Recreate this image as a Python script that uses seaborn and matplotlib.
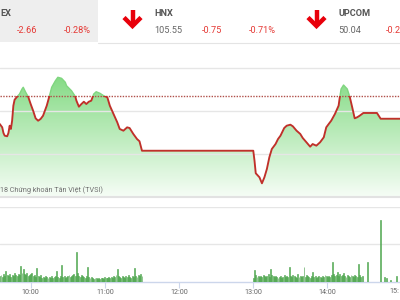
import numpy as np
import pandas as pd
import matplotlib
matplotlib.use("Agg")
import matplotlib.pyplot as plt
from matplotlib.colors import LinearSegmentedColormap
from matplotlib.patches import Rectangle
import seaborn as sns

sns.set_theme(style="white")
plt.rcParams['font.family'] = ['Roboto', 'DejaVu Sans']

# ---------------- data ----------------
# header (visible parts of the cropped index bar)
idx_names = ["EX", "HNX", "UPCOM"]
idx_prices = ["", "105.55", "50.04"]
idx_changes = ["-2.66", "-0.75", "-0.2"]
idx_pcts = ["-0.28%", "-0.71%", ""]

reference = 956.70

price_times = ["09:35", "09:37", "09:38", "09:39", "09:41", "09:42", "09:43", "09:44", "09:45",
               "09:46", "09:47", "09:49", "09:51", "09:53", "09:54", "09:56", "09:58", "10:00",
               "10:02", "10:04", "10:06", "10:08", "10:10", "10:13", "10:15", "10:17", "10:20",
               "10:22", "10:25", "10:28", "10:29", "10:33", "10:36", "10:37", "10:39", "10:41",
               "10:43", "10:45", "10:47", "10:49", "10:51", "10:53", "10:56", "10:59", "11:02",
               "11:04", "11:07", "11:10", "11:12", "11:15", "11:18", "11:20", "11:23", "11:26",
               "11:28", "11:30",
               "13:00", "13:01", "13:02", "13:05", "13:07", "13:09", "13:11", "13:13", "13:15",
               "13:18", "13:20", "13:22", "13:25", "13:27", "13:30", "13:32", "13:35", "13:38",
               "13:40", "13:43", "13:46", "13:48", "13:51", "13:54", "13:57", "13:59", "14:01",
               "14:03", "14:06", "14:09", "14:10", "14:11", "14:13", "14:16", "14:18", "14:20",
               "14:22", "14:24", "14:26", "14:29", "14:40", "14:43", "14:59"]
price_values = [953.49, 953.10, 952.44, 952.13, 952.06, 952.44, 953.29, 952.91, 953.87,
                955.62, 956.31, 956.66, 956.98, 957.56, 957.76, 957.17, 956.66, 955.81,
                955.03, 954.15, 953.87, 954.07, 954.45, 955.62, 956.66, 957.76, 958.52,
                958.92, 958.80, 958.34, 957.94, 957.36, 956.71, 956.20, 955.50, 955.81,
                956.08, 955.81, 956.08, 956.20, 956.98, 957.24, 957.06, 956.78, 956.59,
                955.62, 954.65, 953.69, 952.91, 952.71, 953.10, 953.02, 952.33, 951.74,
                951.48, 950.38,
                950.38, 949.22, 947.76, 947.29, 946.59, 947.29, 948.26, 949.62, 950.58,
                951.16, 951.74, 952.13, 953.02, 953.29, 953.41, 953.22, 952.71, 952.33,
                951.86, 951.36, 950.85, 951.16, 950.97, 951.36, 951.94, 953.10, 953.49,
                953.87, 954.65, 955.62, 956.66, 957.56, 958.02, 957.56, 956.66, 955.43,
                954.15, 954.27, 954.45, 954.77, 954.77, 954.10, 954.10]

# per-minute volume (10k shares)
vol_morning_start = "09:35"
vol_morning = [6, 7, 5, 8, 6, 11, 7, 6, 8, 5,
               7, 6, 9, 7, 6, 8, 7, 17, 9, 13,
               8, 7, 9, 6, 7, 8, 9, 6, 7, 5,
               14, 6, 5, 7, 4, 5, 4, 6, 5, 4,
               5, 4, 6, 4, 5, 6, 11, 5, 4, 6,
               18, 5, 6, 4, 5, 6, 7, 5, 6, 7,
               8, 6, 32, 9, 6, 5, 7, 6, 5, 4,
               6, 16, 5, 4, 5, 4, 3, 4, 4, 3,
               4, 3, 4, 4, 3, 5, 4, 4, 5, 4,
               5, 4, 6, 5, 7, 13, 6, 5, 4, 6,
               5, 4, 6, 5, 7, 5, 4, 6, 5, 14,
               6, 5, 7, 6, 8, 6]
vol_afternoon_start = "13:00"
vol_afternoon = [4, 12, 7, 5, 6, 5, 6, 5, 7, 6,
                 5, 6, 8, 5, 13, 7, 6, 5, 6, 5,
                 4, 5, 6, 4, 5, 7, 5, 6, 5, 16,
                 6, 5, 7, 6, 5, 4, 8, 5, 6, 5,
                 6, 15, 5, 7, 6, 5, 4, 6, 10, 5,
                 6, 4, 5, 6, 5, 4, 6, 5, 7, 6,
                 5, 6, 5, 7, 21, 8, 6, 7, 10, 6,
                 8, 6, 7, 9, 6, 5, 7, 6, 5, 7,
                 6, 5, 7, 6, 5, 19, 7, 5, 6]
vol_late_times = ["14:32", "14:43", "14:46", "14:48", "14:51", "14:56"]
vol_late = [21, 66, 5, 4, 2, 6]

tick_minutes = [60, 120, 180, 240, 300]
tick_labels = ["10:00", "11:00", "12:00", "13:00", "14:00"]
last_label = "15:"


def to_min(s):
    h, m = s.split(":")
    return (int(h) - 9) * 60 + int(m)


t_price = np.array([to_min(s) for s in price_times], dtype=float)
v_price = np.array(price_values)
m0 = to_min(vol_morning_start)
a0 = to_min(vol_afternoon_start)
vt = ([m0 + i for i in range(len(vol_morning))] +
      [a0 + i for i in range(len(vol_afternoon))] +
      [to_min(s) for s in vol_late_times])
vv = vol_morning + vol_afternoon + vol_late

# ---------------- layout ----------------
W, H = 400, 300
X0, X1 = 35.2, 358.64
YB, YT = 945.0, 962.674


def fy(px):
    return 1 - px / H


fig = plt.figure(figsize=(4, 3), dpi=100)
fig.patch.set_facecolor("white")

ov = fig.add_axes([0, 0, 1, 1], zorder=-1)
ov.set_xlim(0, W)
ov.set_ylim(H, 0)
ov.axis("off")
ov.add_patch(Rectangle((0, 0), 98, 42.3, facecolor="#eeeeee", edgecolor="none"))
ov.plot([98, 400], [42.6, 42.6], color="#e4e4e4", lw=0.8)

red_txt = "#e53935"
arrow_red = "#e8000b"
name_x = [0, 154, 338.3]
val_x = [None, 154, 338.3]
chg_x = [16.7, 201.7, 386]
pct_x = [64.3, 249.3, None]
fs = 6.6
for i in range(3):
    ov.text(name_x[i], 13.3, idx_names[i], fontsize=fs, fontweight="bold",
            color="#555555", va="center", ha="left")
    if idx_prices[i]:
        ov.text(val_x[i], 30.5, idx_prices[i], fontsize=fs, color="#666666",
                va="center", ha="left")
    ov.text(chg_x[i], 30.5, idx_changes[i], fontsize=fs, color=red_txt,
            va="center", ha="left")
    if idx_pcts[i]:
        ov.text(pct_x[i], 30.5, idx_pcts[i], fontsize=fs, color=red_txt,
                va="center", ha="left")

for cx in [132.5, 316.5]:
    ov.plot([cx, cx], [10.0, 25.5], color=arrow_red, lw=3.2, solid_capstyle="butt")
    ov.plot([cx - 8.5, cx, cx + 8.5], [17.5, 26.0, 17.5], color=arrow_red, lw=3.2,
            solid_capstyle="butt", solid_joinstyle="miter")

# ---------------- price panel ----------------
axp = fig.add_axes([0, fy(197), 1, fy(45) - fy(197)])
axp.set_facecolor("none")
axp.set_xlim(X0, X1)
axp.set_ylim(YB, YT)

cmap = LinearSegmentedColormap.from_list(
    "g", [(0.0, "#f6fdf6"), (0.35, "#c4eec4"), (1.0, "#68d268")])
grad = np.linspace(0, 1, 256).reshape(-1, 1)
im = axp.imshow(grad, extent=[X0, X1, YB, YT], origin="lower", aspect="auto",
                cmap=cmap, zorder=1, interpolation="bilinear")
fb = axp.fill_between(t_price, v_price, YB, facecolor="none", edgecolor="none")
im.set_clip_path(fb.get_paths()[0], transform=axp.transData)

axp.set_yticks([950, 955, 960])
axp.set_yticklabels([])
axp.set_xticks([])
axp.tick_params(length=0)
for y in [950, 955, 960]:
    axp.axhline(y, color="#e6e6e6", lw=1, zorder=1.5)
axp.axhline(reference, color="#b0504a", lw=1, ls=(0, (1, 1)), zorder=2)

df = pd.DataFrame({"t": t_price, "v": v_price})
sns.lineplot(data=df, x="t", y="v", ax=axp, color="#c0302a", lw=1.35,
             estimator=None, sort=False, zorder=3)
red_line = axp.lines[-1]
red_line.set_clip_path(Rectangle((X0, YB - 5), X1 - X0, reference - YB + 5,
                                 transform=axp.transData))
sns.lineplot(data=df, x="t", y="v", ax=axp, color="#80d680", lw=1.0,
             estimator=None, sort=False, zorder=3)
green_line = axp.lines[-1]
green_line.set_clip_path(Rectangle((X0, reference), X1 - X0, 30,
                                   transform=axp.transData))
axp.set_xlabel("")
axp.set_ylabel("")
for s in ["top", "left", "right"]:
    axp.spines[s].set_visible(False)
axp.spines["bottom"].set_color("#e2e2e2")
axp.spines["bottom"].set_linewidth(1.5)

fig.text(0, fy(190), "18 Chứng khoán Tân Việt (TVSI)", fontsize=5.2,
         color="#707070", va="center", ha="left", zorder=5)

# ---------------- volume panel ----------------
axv = fig.add_axes([0, fy(281.5), 1, fy(206.7) - fy(281.5)])
axv.set_facecolor("none")
axv.set_xlim(X0, X1)
axv.set_ylim(0, 80)
axv.bar(vt, vv, width=0.75, color="#7acb7a", edgecolor="#3f9a3f", lw=0.4, zorder=3)
axv.set_yticks([40, 80])
axv.set_yticklabels([])
axv.yaxis.grid(True, color="#e6e6e6", lw=1)
axv.set_axisbelow(True)
axv.set_xticks(tick_minutes)
axv.set_xticklabels(tick_labels)
axv.tick_params(axis="x", length=4.3, width=0.8, color="#ccd6eb", labelsize=5.2,
                labelcolor="#666666", pad=1.2, direction="out", bottom=True)
axv.tick_params(axis="y", length=0)
for s in ["top", "left", "right"]:
    axv.spines[s].set_visible(False)
axv.spines["bottom"].set_color("#ccd6eb")
axv.spines["bottom"].set_linewidth(1)

fig.text(399.0 / W, fy(291.7), last_label, fontsize=5.2, color="#666666",
         va="center", ha="right")

fig.savefig("out.png", dpi=100)
